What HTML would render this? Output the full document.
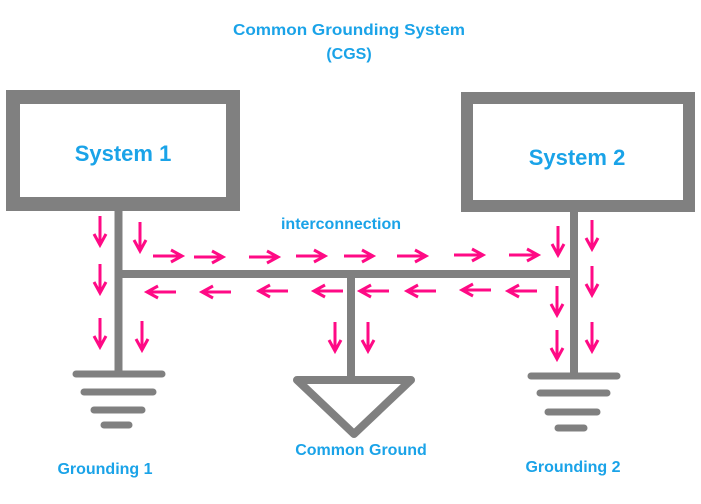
<!DOCTYPE html>
<html><head><meta charset="utf-8"><style>html,body{margin:0;padding:0;background:#fff;}svg{display:block}</style></head>
<body>
<svg width="701" height="504" viewBox="0 0 701 504" xmlns="http://www.w3.org/2000/svg">
<defs>
<g id="ad"><path d="M0,0 V28 M-6,18 L0,29 L6,18" stroke="#ff0a85" stroke-width="3" fill="none"/></g>
<g id="ar"><path d="M0,0 H29 M18,-6 L29,0 L18,6" stroke="#ff0a85" stroke-width="3" fill="none"/></g>
<g id="al"><path d="M0,0 H-29 M-18,-6 L-29,0 L-18,6" stroke="#ff0a85" stroke-width="3" fill="none"/></g>
</defs>
<g font-family="Liberation Sans, sans-serif" font-weight="bold" fill="#1aa3e8" text-anchor="middle">
<text x="349" y="35" font-size="16" textLength="232" lengthAdjust="spacingAndGlyphs">Common Grounding System</text>
<text x="349" y="59" font-size="16">(CGS)</text>
<text x="123" y="161" font-size="22">System 1</text>
<text x="577" y="165" font-size="22">System 2</text>
<text x="341" y="229" font-size="16">interconnection</text>
<text x="105" y="474" font-size="16">Grounding 1</text>
<text x="361" y="455" font-size="16">Common Ground</text>
<text x="573" y="472" font-size="16">Grounding 2</text>
</g>
<g fill="none" stroke="#808080">
<rect x="13" y="97" width="220" height="107" stroke-width="14"/>
<rect x="467" y="98" width="222" height="108" stroke-width="12"/>
<line x1="118.5" y1="211" x2="118.5" y2="374" stroke-width="8"/>
<line x1="574" y1="212" x2="574" y2="376" stroke-width="8"/>
<line x1="122" y1="274" x2="578" y2="274" stroke-width="8"/>
<line x1="351" y1="274" x2="351" y2="378" stroke-width="8"/>
<path d="M297,380 L411,380 L354,434 Z" stroke-width="8" stroke-linejoin="round"/>
<g stroke-width="7" stroke-linecap="round">
<line x1="76" y1="374" x2="162" y2="374"/>
<line x1="84" y1="392" x2="153" y2="392"/>
<line x1="94" y1="410" x2="142" y2="410"/>
<line x1="104" y1="425" x2="129" y2="425"/>
<line x1="531" y1="376" x2="617" y2="376"/>
<line x1="540" y1="393" x2="607" y2="393"/>
<line x1="548" y1="412" x2="597" y2="412"/>
<line x1="558" y1="428" x2="584" y2="428"/>
</g>
</g>
<use href="#ad" x="100" y="216"/><use href="#ad" x="100" y="264"/><use href="#ad" x="100" y="318"/>
<use href="#ad" x="140" y="222"/><use href="#ad" x="142" y="321"/>
<use href="#ad" x="335" y="322"/><use href="#ad" x="368" y="322"/>
<use href="#ad" x="558" y="226"/><use href="#ad" x="557" y="286"/><use href="#ad" x="557" y="330"/>
<use href="#ad" x="592" y="220"/><use href="#ad" x="592" y="266"/><use href="#ad" x="592" y="322"/>
<use href="#ar" x="153" y="256"/><use href="#ar" x="194" y="257"/><use href="#ar" x="249" y="257"/><use href="#ar" x="296" y="256"/><use href="#ar" x="344" y="256"/><use href="#ar" x="397" y="256"/><use href="#ar" x="454" y="255"/><use href="#ar" x="509" y="255"/>
<use href="#al" x="176" y="292"/><use href="#al" x="231" y="292"/><use href="#al" x="288" y="291"/><use href="#al" x="343" y="291"/><use href="#al" x="389" y="291"/><use href="#al" x="436" y="291"/><use href="#al" x="491" y="290"/><use href="#al" x="537" y="291"/>
</svg>
</body></html>
